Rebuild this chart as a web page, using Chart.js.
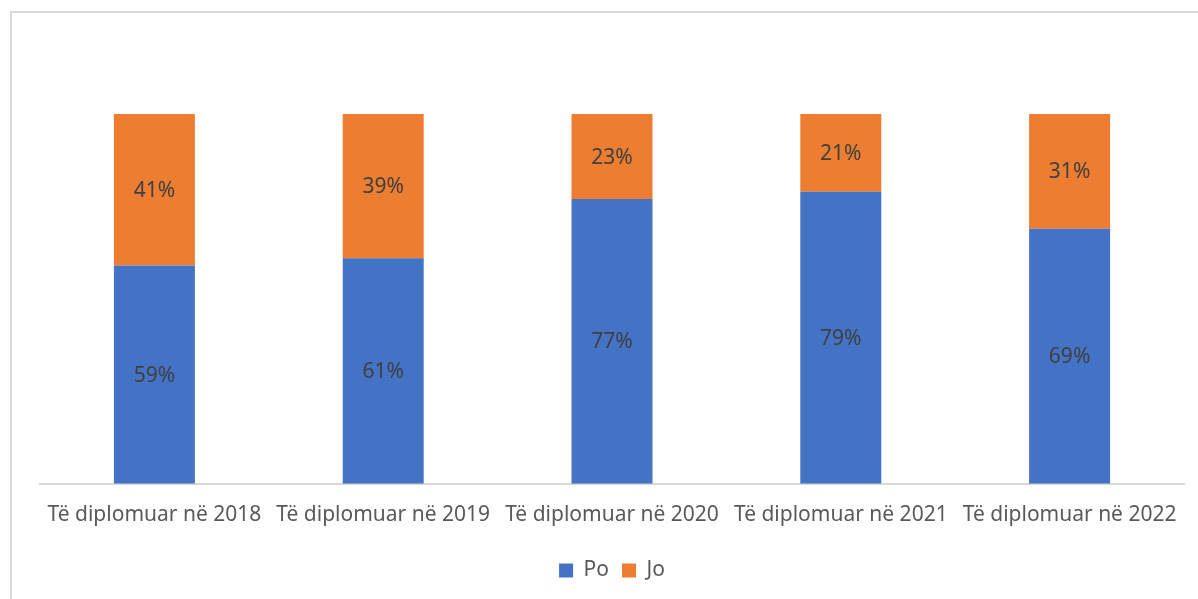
<!DOCTYPE html>
<html>
<head>
<meta charset="utf-8">
<script src="https://cdn.jsdelivr.net/npm/chart.js@4.4.0/dist/chart.umd.min.js"></script>
<style>
  html, body { margin: 0; padding: 0; background: #fff; overflow: hidden; }
  #frame {
    position: absolute; left: 10px; top: 11px;
    width: 1200px; height: 600px;
    border: 2px solid #d9d9d9; box-sizing: border-box;
  }
  #wrap { position: absolute; left: 0; top: 0; width: 1198px; height: 599px; }
</style>
</head>
<body>
<div id="frame"></div>
<div id="wrap"><canvas id="myChart"></canvas></div>
<script>
// Stacked bars: Po / Jo per graduation year

const categories = [
    'Të diplomuar në 2018',
    'Të diplomuar në 2019',
    'Të diplomuar në 2020',
    'Të diplomuar në 2021',
    'Të diplomuar në 2022'
];
const poValues = [59, 61, 77, 79, 69];
const joValues = [41, 39, 23, 21, 31];

// draw the % in the middle of each segment
const barLabels = {
    id: 'barLabels',
    afterDatasetsDraw(chart) {
        const ctx = chart.ctx;
        ctx.save();
        ctx.font = '21px "Noto Sans"';
        ctx.fillStyle = '#404040';
        ctx.textAlign = 'center';
        ctx.textBaseline = 'middle';
        chart.data.datasets.forEach((ds, i) => {
            chart.getDatasetMeta(i).data.forEach((bar, j) => {
                const { x, y, base } = bar.getProps(['x', 'y', 'base'], true);
                ctx.fillText(ds.data[j] + '%', x, (y + base) / 2 + 1);
            });
        });
        ctx.restore();
    }
};

const config = {
    type: 'bar',
    data: {
        labels: categories,
        datasets: [
            { label: 'Po', data: poValues, backgroundColor: '#4472c4' },
            { label: 'Jo', data: joValues, backgroundColor: '#ed7d31' }
        ]
    },
    options: {
        responsive: true,
        maintainAspectRatio: false,
        animation: false,
        layout: { padding: { left: 40, right: 14, top: 114, bottom: 8 } },
        datasets: { bar: { categoryPercentage: 1, barPercentage: 0.354 } },
        scales: {
            x: {
                stacked: true,
                grid: { display: false, drawTicks: false },
                border: { color: '#d9d9d9', width: 2 },
                ticks: {
                    color: '#595959',
                    font: { family: 'Noto Sans', size: 21 },
                    padding: 19,
                    autoSkip: false,
                    maxRotation: 0
                }
            },
            y: {
                stacked: true,
                display: false,
                min: 0,
                max: 100
            }
        },
        plugins: {
            tooltip: { enabled: false },
            legend: {
                display: true,
                position: 'bottom',
                labels: {
                    color: '#595959',
                    font: { family: 'Noto Sans', size: 21 },
                    boxWidth: 14,
                    boxHeight: 14,
                    padding: 13
                }
            }
        }
    },
    plugins: [barLabels]
};

const myChart = new Chart(document.getElementById('myChart'), config);
</script>
</body>
</html>
